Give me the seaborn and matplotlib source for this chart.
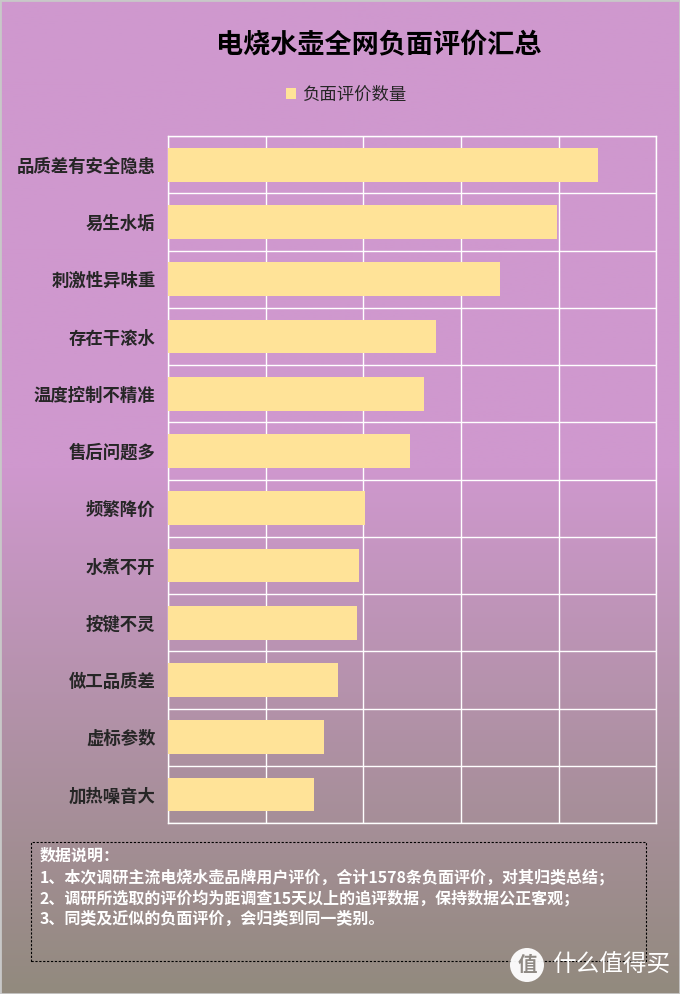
import numpy as np
import pandas as pd
import matplotlib
matplotlib.use('Agg')
import matplotlib.pyplot as plt
import seaborn as sns
from matplotlib.patches import Rectangle, Ellipse
from matplotlib.colors import LinearSegmentedColormap

# data
categories = ['品质差有安全隐患', '易生水垢', '刺激性异味重', '存在干滚水', '温度控制不精准',
              '售后问题多', '频繁降价', '水煮不开', '按键不灵', '做工品质差', '虚标参数', '加热噪音大']
counts = [220, 199, 170, 137, 131, 124, 101, 98, 97, 87, 80, 75]
series_name = '负面评价数量'
x_ticks = [0, 50, 100, 150, 200, 250]

notes = ['数据说明：',
         '1、本次调研主流电烧水壶品牌用户评价，合计1578条负面评价，对其归类总结；',
         '2、调研所选取的评价均为距调查15天以上的追评数据，保持数据公正客观；',
         '3、同类及近似的负面评价，会归类到同一类别。']

df = pd.DataFrame({'类别': categories, series_name: counts})

sns.set_style('white')
plt.rcParams['font.family'] = ['Noto Sans CJK SC', 'DejaVu Sans']

fig = plt.figure(figsize=(6.8, 9.94), dpi=100)

# background gradient: purple on top, greyish brown at the bottom
bg = fig.add_axes([0, 0, 1, 1], zorder=-10)
frac = np.linspace(0, 1, 500)
t = np.clip((frac - 0.47) / 0.53, 0, 1)
cmap = LinearSegmentedColormap.from_list('bg', ['#CF98CE', '#928A7E'])
bg.imshow(t[:, None], aspect='auto', cmap=cmap, vmin=0, vmax=1, extent=[0, 1, 0, 1])
bg.set_axis_off()
bg.add_patch(Rectangle((0, 0), 1, 1, transform=bg.transAxes, fill=False,
                       edgecolor='#C8C8C8', linewidth=2))

ax = fig.add_axes([0.247, 0.172, 0.718, 0.691])
ax.set_facecolor('none')
sns.barplot(data=df, y='类别', x=series_name, orient='h', color='#FFE398',
            width=0.59, saturation=1, linewidth=0, edgecolor='none',
            ax=ax, label=series_name, zorder=3)

ax.set_xlim(0, 250)
ax.set_ylim(len(categories) - 0.5, -0.5)
ax.set_xticks(x_ticks)
ax.set_xticklabels([])
ax.set_yticks(np.arange(len(categories) + 1) - 0.5, minor=True)
ax.grid(axis='x', color='white', linewidth=1, zorder=0)
ax.grid(axis='y', which='minor', color='white', linewidth=1, zorder=0)
ax.tick_params(axis='y', which='both', length=0, pad=9)
ax.tick_params(axis='x', length=0)
for lab in ax.get_yticklabels():
    lab.set_fontweight('bold')
    lab.set_fontsize(12.5)
for sp in ax.spines.values():
    sp.set_color('white')
    sp.set_linewidth(1)
ax.set_xlabel('')
ax.set_ylabel('')

fig.text(0.557, 0.954, '电烧水壶全网负面评价汇总', ha='center', va='center',
         fontsize=19.5, fontweight='bold', color='black')
ax.legend(loc='center', frameon=False, fontsize=12.5, handlelength=0.6,
          handleheight=0.6, handletextpad=0.35)
leg = ax.get_legend()
leg.set_bbox_to_anchor((0.509, 0.905), transform=fig.transFigure)

# notes box
fig.patches.append(Rectangle((31 / 680, 1 - 961 / 994), 615 / 680, 119 / 994,
                             transform=fig.transFigure, fill=False, edgecolor='black',
                             linestyle=(0, (2, 1.5)), linewidth=0.8))
for i, line in enumerate(notes):
    fig.text(40 / 680, 1 - (856 + i * 21) / 994, line, ha='left', va='center',
             fontsize=11.5, fontweight='bold', color='white')

# watermark
fig.patches.append(Ellipse((527 / 680, 1 - 965 / 994), 34 / 680, 34 / 994,
                           transform=fig.transFigure, facecolor='white',
                           edgecolor='none', alpha=0.95))
fig.text(527 / 680, 1 - 965 / 994, '值', ha='center', va='center', fontsize=14,
         fontweight='bold', color='#8F8A84')
fig.text(552 / 680, 1 - 965 / 994, '什么值得买', ha='left', va='center', fontsize=17,
         color='white')

fig.savefig('out.png', dpi=100)
